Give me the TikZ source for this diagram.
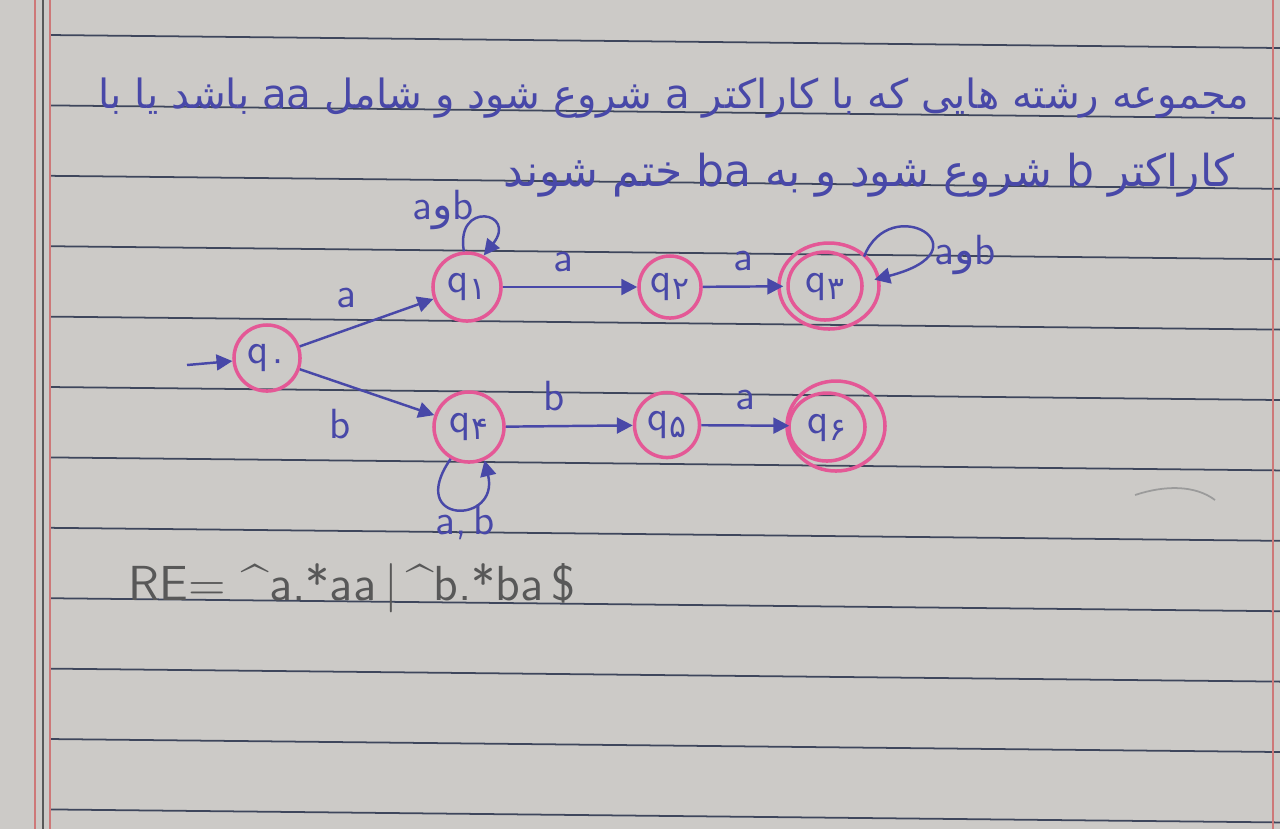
\documentclass[tikz,border=0pt]{standalone}
\usepackage{fontspec}
\usetikzlibrary{arrows.meta}
\TeXXeTstate=1
\newfontfamily\fa[Script=Arabic]{DejaVu Sans}
\definecolor{paper}{RGB}{204,202,199}
\definecolor{rule}{RGB}{62,70,92}
\definecolor{margin}{RGB}{205,120,120}
\definecolor{ink}{RGB}{72,72,168}
\definecolor{rose}{RGB}{228,88,150}
\definecolor{pencil}{RGB}{88,88,88}
\tikzset{
  st/.style={circle, draw=rose, line width=1pt, minimum size=0.66cm, inner sep=0pt, text=ink, font=\sffamily\large},
  edge/.style={draw=ink, line width=0.7pt, -{Triangle[length=4.5pt,width=4.5pt]}},
  lab/.style={text=ink, font=\sffamily\large, inner sep=1pt},
  ruleline/.style={draw=rule, line width=0.5pt},
  head/.style={anchor=east, text=ink, inner sep=0pt},
}
\newcommand{\qs}[1]{q\raisebox{-0.35ex}{\fa\small #1}}
\begin{document}
\begin{tikzpicture}[x=0.01cm,y=-0.01cm]
\useasboundingbox (0,0) rectangle (1280,829);
\fill[paper] (0,0) rectangle (1280,829);
% ruled lines
\foreach \k in {0,...,11}{
  \draw[ruleline] (50,{35+70.4*\k}) -- (1280,{48+70.4*\k});
}
% margins
\draw[margin, line width=0.6pt] (35,0) -- (35,829);
\draw[margin, line width=0.6pt] (50,0) -- (50,829);
\draw[pencil, line width=0.6pt] (43,0) -- (43,829);
\draw[margin, line width=0.6pt] (1273,0) -- (1273,829);
% heading
\node[head] (h1) at (1250,98)
  {\resizebox{11.5cm}{!}{\fa\beginR مجموعه رشته هایی که با کاراکتر a شروع شود و شامل aa باشد یا با\endR}};
\node[head] (h2) at (1235,175)
  {\resizebox{7.3cm}{!}{\fa\beginR کاراکتر b شروع شود و به ba ختم شوند\endR}};
% states
\node[st] (q0) at (267,358) {\qs{۰}};
\node[st, minimum size=0.68cm] (q1) at (467,287) {\qs{۱}};
\node[st, minimum size=0.62cm] (q2) at (670,287) {\qs{۲}};
\node[st, minimum size=0.88cm, draw=none] (q3) at (829,286) {};
\draw[rose, line width=1pt] (q3) ellipse [x radius=50, y radius=43];
\draw[rose, line width=1pt] (825,286) ellipse [x radius=37, y radius=34];
\node[text=ink, font=\sffamily\large] at (825,287) {\qs{۳}};
\node[st, minimum size=0.70cm] (q4) at (469,427) {\qs{۴}};
\node[st, minimum size=0.65cm] (q5) at (667,425) {\qs{۵}};
\node[st, minimum size=0.90cm, draw=none] (q6) at (836,426) {};
\draw[rose, line width=1pt] (q6) ellipse [x radius=49, y radius=45];
\draw[rose, line width=1pt] (827,427) ellipse [x radius=38, y radius=34];
\node[text=ink, font=\sffamily\large] at (827,428) {\qs{۶}};
% start
\coordinate (s) at (187,365);
\draw[edge] (s) -- (q0);
% transitions
\draw[edge] (q0) -- (q1) node[lab, pos=0.35, above=5pt] {a};
\draw[edge] (q0) -- (q4) node[lab, pos=0.3, below=6pt] {b};
\draw[edge] (q1) -- (q2) node[lab, pos=0.45, above=3pt] {a};
\draw[edge] (q2) -- (q3) node[lab, midway, above=3pt] {a};
\draw[edge] (q4) -- (q5) node[lab, pos=0.38, above=3pt] {b};
\draw[edge] (q5) -- (q6) node[lab, midway, above=3pt] {a};
% loops
\draw[edge] (q1.95) .. controls (455,200) and (518,212) .. (q1.62);
\node[lab] (l1) at (443,210) {a{\fa و}b};
\draw[edge] (q3.40) .. controls (890,190) and (990,250) .. (q3.8);
\node[lab] (l3) at (965,255) {a{\fa و}b};
\draw[edge] (q4.240) .. controls (405,525) and (500,525) .. (q4.295);
\node[lab] (l4) at (465,522) {a,\,b};
% pencil squiggle
\draw[pencil!60, line width=0.5pt] (1135,495) .. controls (1165,485) and (1195,485) .. (1215,500);
% regular expression
\node[anchor=west, text=pencil, font=\sffamily\fontsize{14}{17}\selectfont, inner sep=0pt] (re) at (128,588)
  {RE= \textasciicircum a.*aa\,|\,\textasciicircum b.*ba\,\$};
\end{tikzpicture}
\end{document}
